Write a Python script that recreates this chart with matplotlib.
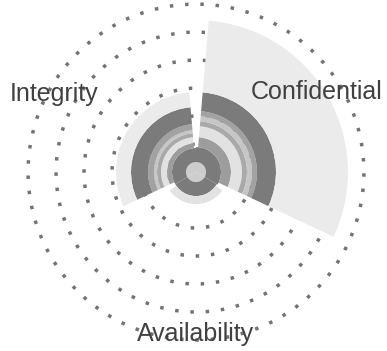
import numpy as np
import matplotlib.pyplot as plt

plt.rcParams['font.family'] = ['Liberation Sans', 'DejaVu Sans']

categories = ["Confidential", "Integrity", "Availability"]

# stacked ring layers, inner to outer (one value per category)
hub      = [10, 10, 10]
dark1    = [15, 14, 14]
mid1     = [10, 5, 0]
light1   = [11, 6, 8]
grey1    = [5, 4, 0]
light2   = [5, 3, 0]
grey2    = [5, 6, 0]
dark2    = [19, 17, 0]
pale     = [72, 15, 0]

layers = [hub, dark1, mid1, light1, grey1, light2, grey2, dark2, pale]
colors = ["#cdcdcd", "#7b7b7b", "#9d9d9d", "#e2e2e2", "#a9a9a9",
          "#c6c6c6", "#a2a2a2", "#7b7b7b", "#ebebeb"]

grid_r = [28, 56, 84, 112, 140, 168]

label_theta = [33.5, 151, 270]
label_r = [145, 162, 162]

fig = plt.figure(figsize=(3.87, 3.51), dpi=100)
ax = fig.add_axes([0.0646, 0.0228, 0.8837, 0.974], projection='polar')
ax.set_theta_offset(np.deg2rad(30))

theta = np.arange(len(categories)) * 2 * np.pi / 3
width = 2 * np.pi / 3 * 0.92

# dotted rings behind the bars
circ = np.linspace(0, 2 * np.pi, 500)
for r in grid_r:
    ax.plot(circ, np.full_like(circ, r), color="#737373", linewidth=2.5,
            linestyle=(0, (1, 3.4)), zorder=0.5)

bottom = np.zeros(len(categories))
for i, (vals, c) in enumerate(zip(layers, colors)):
    w = 2 * np.pi / 3 if i < 2 else width   # inner rings closed
    ax.bar(theta, vals, width=w, bottom=bottom, color=c, edgecolor='none',
           zorder=1)
    bottom += np.array(vals)

ax.set_ylim(0, 171)
ax.set_yticks([])
ax.set_xticks([])
ax.grid(False)
ax.spines['polar'].set_visible(False)

for name, t, r in zip(categories, label_theta, label_r):
    ax.text(np.deg2rad(t - 30), r, name, ha='center', va='center',
            fontsize=18, color="#404040")

fig.savefig("out.png", dpi=100)
